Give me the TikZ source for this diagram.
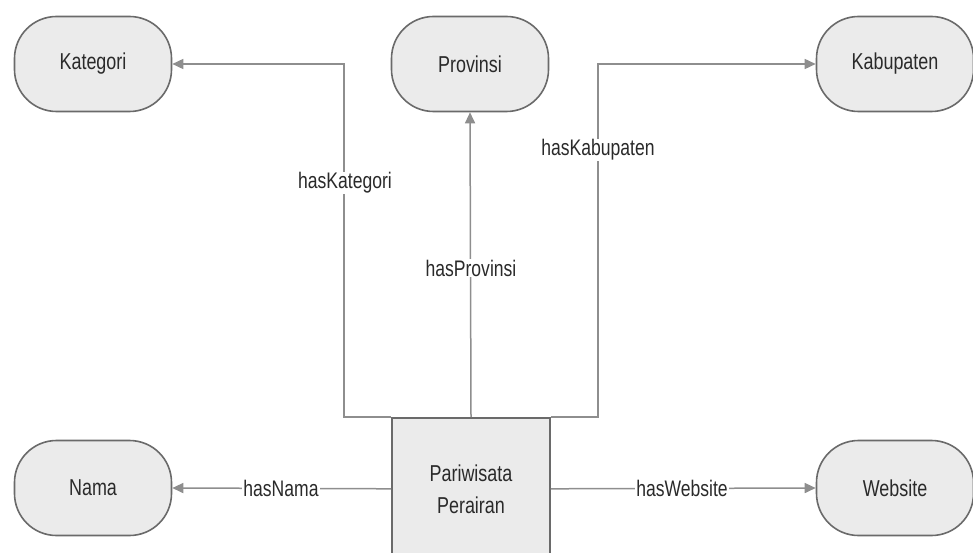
\documentclass[tikz,border=0pt]{standalone}
\usepackage{fontspec}
\setmainfont[FakeStretch=0.78]{Liberation Sans}
\usetikzlibrary{arrows.meta}
\definecolor{linegray}{HTML}{8E8E8E}
\definecolor{bordergray}{HTML}{6A6A6A}
\definecolor{fillgray}{HTML}{EBEBEB}
\definecolor{txt}{HTML}{2A2A2A}
\tikzset{
  classnode/.style={draw=bordergray, line width=1.6pt, fill=fillgray, rounded corners=42pt,
    minimum width=157pt, minimum height=95pt, inner sep=0pt, text=txt,
    font=\fontsize{23}{26}\selectfont},
  mainbox/.style={draw=bordergray, line width=1.6pt, fill=fillgray,
    minimum width=158pt, minimum height=142pt, inner sep=0pt, text=txt, align=center,
    font=\fontsize{23}{32}\selectfont},
  conn/.style={draw=linegray, line width=1.5pt, -{Triangle[length=11pt,width=10pt]}},
  rel/.style={fill=white, inner sep=1pt, text=txt, font=\fontsize{22.5}{25}\selectfont}
}
\begin{document}
\begin{tikzpicture}[x=1pt,y=-1pt]
\useasboundingbox (0,0) rectangle (973,553);
\clip (0,0) rectangle (973,553);
\node[classnode] (kat) at (93,64) {Kategori};
\node[classnode] (prov) at (470,64) {Provinsi};
\node[classnode] (kab) at (895,64) {Kabupaten};
\node[classnode] (nama) at (93,488) {Nama};
\node[classnode] (web) at (895,488) {Website};
\node[mainbox, anchor=north] (pw) at (471,417) {Pariwisata\\Perairan};
\draw[conn] (pw.north west) -- ++(-47,0) |- (kat.east);
\draw[conn] (pw.north east) -- ++(47,0) |- (kab.west);
\draw[conn] (pw.north) -- (prov.south);
\draw[conn] (pw.west) -- (nama.east);
\draw[conn] (pw.east) -- (web.west);
\node[rel] (lkat) at (345,183) {hasKategori};
\node[rel] (lprov) at (471,268) {hasProvinsi};
\node[rel] (lkab) at (598,150) {hasKabupaten};
\node[rel] (lnama) at (281,488) {hasNama};
\node[rel] (lweb) at (682,488) {hasWebsite};
\end{tikzpicture}
\end{document}
